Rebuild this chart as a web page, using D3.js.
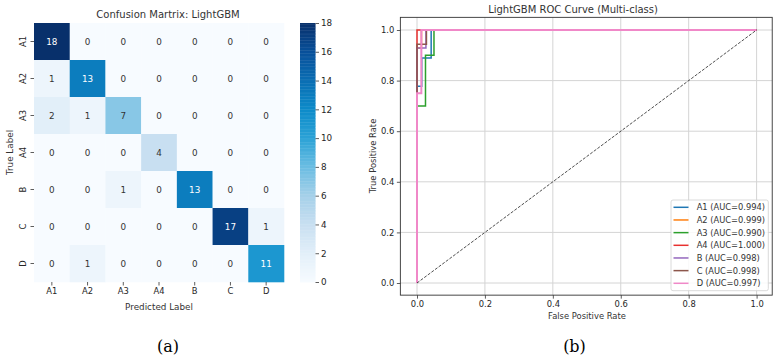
<!DOCTYPE html>
<html>
<head>
<meta charset="utf-8">
<script src="https://cdn.jsdelivr.net/npm/d3@7"></script>
<style>
  html, body { margin: 0; padding: 0; background: #fff; }
  svg { display: block; }
  text { font-family: "DejaVu Sans", sans-serif; fill: #262626; }
</style>
</head>
<body>
<svg id="chart" width="777" height="358"></svg>
<script>
// ---------- DATA ----------
const classes = ["A1", "A2", "A3", "A4", "B", "C", "D"];
const confusion = [
  [18, 0, 0, 0, 0, 0, 0],
  [1, 13, 0, 0, 0, 0, 0],
  [2, 1, 7, 0, 0, 0, 0],
  [0, 0, 0, 4, 0, 0, 0],
  [0, 0, 1, 0, 13, 0, 0],
  [0, 0, 0, 0, 0, 17, 1],
  [0, 1, 0, 0, 0, 0, 11]
];
const colorbarTicks = [0, 2, 4, 6, 8, 10, 12, 14, 16, 18];
const cmapValues = [0, 2, 4, 6, 8, 10, 12, 14, 16, 18];
const cmapColors = ["#f7fbff", "#e2eff9", "#c8dff1", "#a5d0e9", "#6bbde2", "#2ba2d6", "#0d8bc9", "#0a6eb3", "#08509a", "#08306b"];

const rocFpr = {
  A1: [0, 0, 0.0139, 0.0139, 0.0417, 0.0417, 1],
  A2: [0, 0, 0.0132, 0.0132, 1],
  A3: [0, 0, 0.025, 0.025, 0.05, 0.05, 1],
  A4: [0, 0, 1],
  B:  [0, 0, 0.0263, 0.0263, 1],
  C:  [0, 0, 0.0278, 0.0278, 1],
  D:  [0, 0, 0.0128, 0.0128, 1]
};
const rocTpr = {
  A1: [0, 0.778, 0.778, 0.889, 0.889, 1, 1],
  A2: [0, 0.929, 0.929, 1, 1],
  A3: [0, 0.7, 0.7, 0.9, 0.9, 1, 1],
  A4: [0, 1, 1],
  B:  [0, 0.929, 0.929, 1, 1],
  C:  [0, 0.944, 0.944, 1, 1],
  D:  [0, 0.75, 0.75, 1, 1]
};
const aucValues = ["0.994", "0.999", "0.990", "1.000", "0.998", "0.998", "0.997"];
const rocColors = ["#1f77b4", "#ff7f0e", "#2ca02c", "#e8312f", "#9467bd", "#8c564b", "#f088c8"];
const rocTicks = [0, 0.2, 0.4, 0.6, 0.8, 1.0];

// ---------- SETUP ----------
const svg = d3.select("#chart");
const FS = 8.4;

// ---------- HEATMAP ----------
const hx = d3.scaleBand().domain(classes).range([34, 284]);
const hy = d3.scaleBand().domain(classes).range([23, 282]);
const color = d3.scaleLinear().domain(cmapValues).range(cmapColors).interpolate(d3.interpolateRgb);

const cells = [];
confusion.forEach((row, i) => row.forEach((v, j) => cells.push({ t: classes[i], p: classes[j], v })));

const hm = svg.append("g");
hm.selectAll("rect").data(cells).join("rect")
  .attr("x", d => hx(d.p)).attr("y", d => hy(d.t))
  .attr("width", hx.bandwidth() + 0.3).attr("height", hy.bandwidth() + 0.3)
  .attr("fill", d => color(d.v));
hm.selectAll("text.ann").data(cells).join("text")
  .attr("class", "ann")
  .attr("x", d => hx(d.p) + hx.bandwidth() / 2)
  .attr("y", d => hy(d.t) + hy.bandwidth() / 2 + 3.2)
  .attr("text-anchor", "middle")
  .style("font-size", "8.8px")
  .style("fill", d => d.v >= 10 ? "#ffffff" : "#333333")
  .text(d => d.v);

// x axis
const hxAxis = d3.axisBottom(hx).tickSize(3.5).tickPadding(2.5);
const gx = svg.append("g").attr("transform", "translate(0,282)").call(hxAxis);
gx.select(".domain").remove();
gx.selectAll("line").attr("stroke", "#333").attr("stroke-width", 0.8);
gx.selectAll("text").style("font-size", FS + "px").style("font-family", "DejaVu Sans").attr("fill", "#333");

// y axis (rotated labels)
const hyAxis = d3.axisLeft(hy).tickSize(3.5).tickPadding(0);
const gy = svg.append("g").attr("transform", "translate(34,0)").call(hyAxis);
gy.select(".domain").remove();
gy.selectAll("line").attr("stroke", "#333").attr("stroke-width", 0.8);
gy.selectAll("text")
  .attr("x", null).attr("dy", null)
  .attr("transform", "translate(-8.5,0) rotate(-90)")
  .attr("text-anchor", "middle")
  .style("font-size", FS + "px").style("font-family", "DejaVu Sans").attr("fill", "#333");

svg.append("text").attr("x", 159).attr("y", 309.5).attr("text-anchor", "middle")
  .style("font-size", "8.8px").style("fill", "#333").text("Predicted Label");
svg.append("text").attr("transform", "translate(12.5,152.5) rotate(-90)").attr("text-anchor", "middle")
  .style("font-size", "8.8px").style("fill", "#333").text("True Label");
svg.append("text").attr("x", 168).attr("y", 17.5).attr("text-anchor", "middle")
  .style("font-size", "10px").style("fill", "#333").text("Confusion Martrix: LightGBM");

// colorbar
const cbScale = d3.scaleLinear().domain([0, 18]).range([282, 23]);
const cbSteps = d3.range(0, 18, 0.1);
svg.append("g").selectAll("rect").data(cbSteps).join("rect")
  .attr("x", 300).attr("width", 15.5)
  .attr("y", d => cbScale(d + 0.1)).attr("height", d => cbScale(d) - cbScale(d + 0.1) + 0.4)
  .attr("fill", d => color(d + 0.05));
const cbAxis = d3.axisRight(cbScale).tickValues(colorbarTicks).tickSize(3.5).tickPadding(2);
const gcb = svg.append("g").attr("transform", "translate(315.5,0)").call(cbAxis);
gcb.select(".domain").remove();
gcb.selectAll("line").attr("stroke", "#333").attr("stroke-width", 0.8);
gcb.selectAll("text").style("font-size", "8.8px").style("font-family", "DejaVu Sans").attr("fill", "#333");

// ---------- ROC ----------
const rx = d3.scaleLinear().domain([0, 1]).range([417, 756.6]);
const ry = d3.scaleLinear().domain([0, 1]).range([283, 30]);
const fx0 = rx(-0.049), fx1 = rx(1.046), fy0 = ry(-0.048), fy1 = ry(1.05);

const roc = svg.append("g");
// grid
roc.selectAll("line.gx").data(rocTicks).join("line")
  .attr("x1", d => rx(d)).attr("x2", d => rx(d)).attr("y1", fy1).attr("y2", fy0)
  .attr("stroke", "#d4d4d4").attr("stroke-width", 1);
roc.selectAll("line.gy").data(rocTicks).join("line")
  .attr("y1", d => ry(d)).attr("y2", d => ry(d)).attr("x1", fx0).attr("x2", fx1)
  .attr("stroke", "#d4d4d4").attr("stroke-width", 1);

// curves
const line = d3.line().x(d => rx(d[0])).y(d => ry(d[1])).curve(d3.curveLinear);
classes.forEach((c, i) => {
  const pts = rocFpr[c].map((f, k) => [f, rocTpr[c][k]]);
  roc.append("path").datum(pts).attr("d", line)
    .attr("fill", "none").attr("stroke", rocColors[i])
    .attr("stroke-width", c === "D" ? 2 : 1.5);
});
// diagonal
roc.append("path").datum([[0, 0], [1, 1]]).attr("d", line)
  .attr("fill", "none").attr("stroke", "#222").attr("stroke-width", 0.8).attr("stroke-dasharray", "3,1.5");

// frame
roc.append("rect").attr("x", fx0).attr("y", fy1).attr("width", fx1 - fx0).attr("height", fy0 - fy1)
  .attr("fill", "none").attr("stroke", "#333").attr("stroke-width", 0.9);

// axes
const rxAxis = d3.axisBottom(rx).tickValues(rocTicks).tickFormat(d3.format(".1f")).tickSize(3.5).tickPadding(2.5);
const grx = svg.append("g").attr("transform", `translate(0,${fy0})`).call(rxAxis);
grx.select(".domain").remove();
grx.selectAll("line").attr("stroke", "#333").attr("stroke-width", 0.8);
grx.selectAll("text").style("font-size", FS + "px").style("font-family", "DejaVu Sans").attr("fill", "#333");

const ryAxis = d3.axisLeft(ry).tickValues(rocTicks).tickFormat(d3.format(".1f")).tickSize(3.5).tickPadding(2.5);
const gry = svg.append("g").attr("transform", `translate(${fx0},0)`).call(ryAxis);
gry.select(".domain").remove();
gry.selectAll("line").attr("stroke", "#333").attr("stroke-width", 0.8);
gry.selectAll("text").style("font-size", FS + "px").style("font-family", "DejaVu Sans").attr("fill", "#333");

svg.append("text").attr("x", 587).attr("y", 319).attr("text-anchor", "middle")
  .style("font-size", FS + "px").style("fill", "#333").text("False Positive Rate");
svg.append("text").attr("transform", "translate(375.5,156) rotate(-90)").attr("text-anchor", "middle")
  .style("font-size", FS + "px").style("fill", "#333").text("True Positive Rate");
svg.append("text").attr("x", 573).attr("y", 13).attr("text-anchor", "middle")
  .style("font-size", "10px").style("fill", "#333").text("LightGBM ROC Curve (Multi-class)");

// legend
const leg = svg.append("g");
leg.append("rect").attr("x", 671).attr("y", 200).attr("width", 97.3).attr("height", 90.7)
  .attr("rx", 2).attr("fill", "#fff").attr("fill-opacity", 0.85).attr("stroke", "#d0d0d0").attr("stroke-width", 0.8);
const legY = d3.scalePoint().domain(classes).range([207.3, 283.3]);
classes.forEach((c, i) => {
  leg.append("line").attr("x1", 673.5).attr("x2", 688.5).attr("y1", legY(c)).attr("y2", legY(c))
    .attr("stroke", rocColors[i]).attr("stroke-width", 1.5);
  leg.append("text").attr("x", 696.7).attr("y", legY(c) + 3).style("font-size", "8.3px").style("fill", "#333")
    .text(`${c} (AUC=${aucValues[i]})`);
});

// captions
svg.append("text").attr("x", 168).attr("y", 351.5).attr("text-anchor", "middle")
  .style("font-family", "'DejaVu Serif', serif").style("font-size", "16px").style("fill", "#000").text("(a)");
svg.append("text").attr("x", 574.5).attr("y", 351.5).attr("text-anchor", "middle")
  .style("font-family", "'DejaVu Serif', serif").style("font-size", "16px").style("fill", "#000").text("(b)");
</script>
</body>
</html>
